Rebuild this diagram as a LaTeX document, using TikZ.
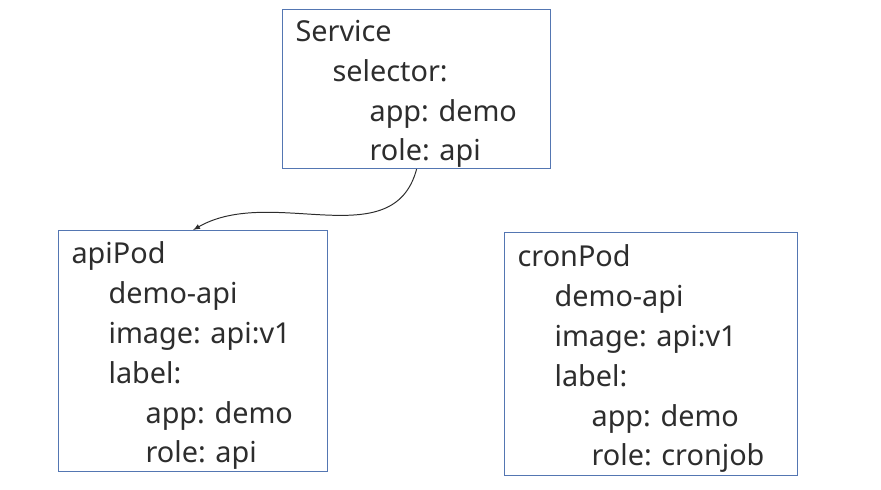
\documentclass[tikz,border=0pt]{standalone}
\usepackage{fontspec}
\setmainfont{Noto Sans}
\usetikzlibrary{arrows}
\definecolor{boxblue}{RGB}{84,118,178}
\definecolor{txtgray}{RGB}{45,45,45}
\newcommand{\ind}[1]{\hspace*{#1}}
\frenchspacing

\begin{document}
\begin{tikzpicture}[x=0.025cm, y=0.025cm,
    yamlbox/.style n args={3}{draw=boxblue, line width=0.8pt, anchor=north west, align=left,
        inner xsep=0.325cm, inner ysep=0pt, minimum width=#1, minimum height=#2,
        text width=#3, text=txtgray, font=\fontsize{20.5}{28.4}\selectfont,
        execute at begin node={\rule{0pt}{22pt}}}]
    \useasboundingbox (0,0) rectangle (881,489);
    \node[yamlbox={6.7cm}{3.975cm}{6.05cm}] (service) at (282,480) {Service\\
        \ind{0.925cm}selector:\\
        \ind{1.85cm}app: demo\\
        \ind{1.85cm}role: api};
    \node[yamlbox={6.725cm}{6.025cm}{6.075cm}] (apiPod) at (58,259) {apiPod\\
        \ind{0.925cm}demo-api\\
        \ind{0.925cm}image: api:v1\\
        \ind{0.925cm}label:\\
        \ind{1.85cm}app: demo\\
        \ind{1.85cm}role: api};
    \node[yamlbox={7.325cm}{6.075cm}{6.675cm}] (cronPod) at (504,257) {cronPod\\
        \ind{0.925cm}demo-api\\
        \ind{0.925cm}image: api:v1\\
        \ind{0.925cm}label:\\
        \ind{1.85cm}app: demo\\
        \ind{1.85cm}role: cronjob};
    \draw[-latex, txtgray, line width=0.7pt] (service.south) to[out=-105, in=30] (apiPod.north);
\end{tikzpicture}
\end{document}
